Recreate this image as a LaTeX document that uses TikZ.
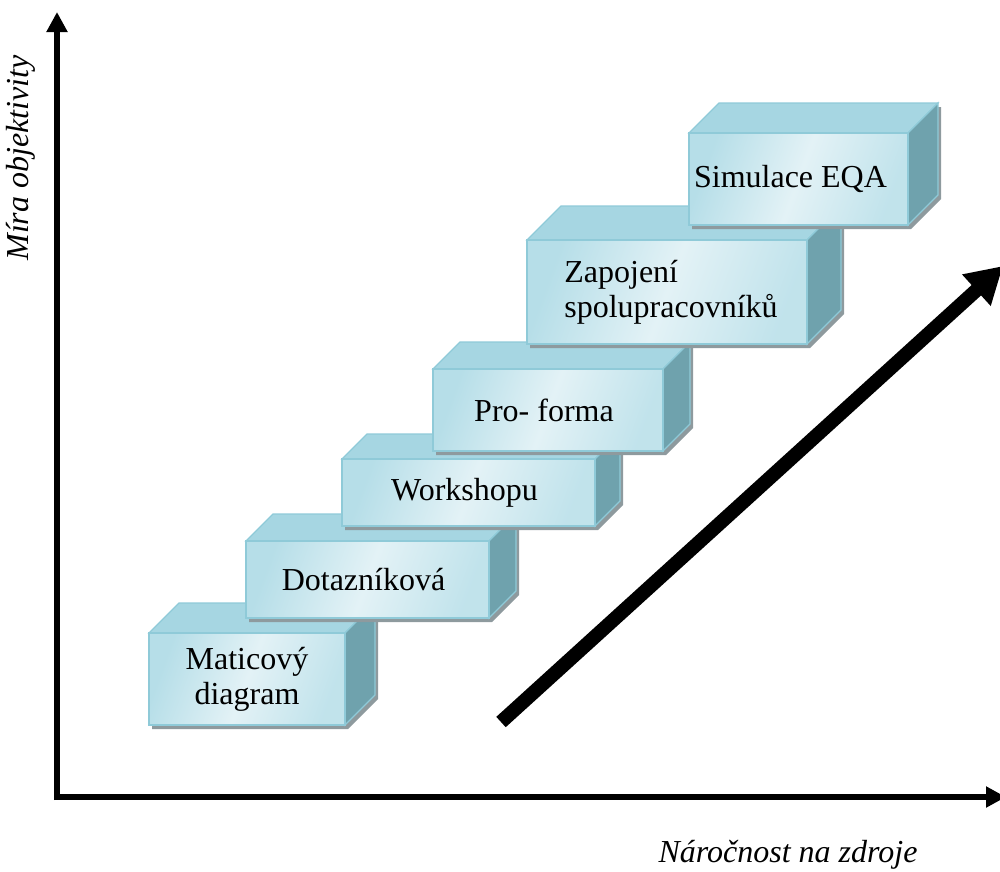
\documentclass[tikz,border=0pt]{standalone}
\usepackage{fontspec}
\setmainfont{Liberation Serif}
\usetikzlibrary{arrows.meta}
\definecolor{topface}{HTML}{A6D6E2}
\definecolor{sideface}{HTML}{6FA2AD}
\definecolor{frontedge}{HTML}{B6DEE8}
\definecolor{frontmid}{HTML}{E3F2F6}
\definecolor{edgecol}{HTML}{8FCAD8}
\definecolor{shadowgray}{HTML}{8E9A9E}
\tikzset{
  boxtext/.style={font=\fontsize{32}{35}\selectfont, inner sep=0pt},
  axislabel/.style={font=\fontsize{32}{36}\selectfont\itshape, inner sep=0pt},
  axisline/.style={line width=6, -{Triangle[width=20,length=20]}},
  bigarrow/.style={line width=14, -{Triangle[width=40,length=36]}},
}
% #1 name, #2 x1, #3 y1, #4 x2, #5 y2, #6 depth, #7 node options, #8 text
\newcommand{\stepcube}[8]{%
  \fill[shadowgray] ({#2+3},{#3+4}) -- ({#2+#6+3},{#3-#6+4}) -- ({#4+#6+3},{#3-#6+4})
     -- ({#4+#6+3},{#5-#6+4}) -- ({#4+3},{#5+4}) -- ({#2+3},{#5+4}) -- cycle;
  \filldraw[fill=topface, draw=edgecol, line width=1.2] (#2,#3) -- ({#2+#6},{#3-#6}) -- ({#4+#6},{#3-#6}) -- (#4,#3) -- cycle;
  \filldraw[fill=sideface, draw=edgecol, line width=1.2] (#4,#3) -- ({#4+#6},{#3-#6}) -- ({#4+#6},{#5-#6}) -- (#4,#5) -- cycle;
  \shade[left color=frontedge, right color=frontedge!85!white, middle color=frontmid, shading angle=70] (#2,#3) rectangle (#4,#5);
  \draw[edgecol, line width=1.5] (#2,#3) rectangle (#4,#5);
  \node[boxtext,#7] (#1) at ({(#2+#4)/2},{(#3+#5)/2}) {#8};
}
\begin{document}
\begin{tikzpicture}[x=1pt,y=-1pt]
\useasboundingbox (0,0) rectangle (1000,871);
% axes
\coordinate (origin) at (57,797);
\coordinate (ytip) at (57,12);
\coordinate (xtip) at (1006,797);
\draw[axisline] (57,800) -- (ytip);
\draw[axisline] (54,797) -- (xtip);
\node[axislabel, rotate=90, anchor=base] (ylab) at (28,158) {Míra objektivity};
\node[axislabel, anchor=base] (xlab) at (788,862) {Náročnost na zdroje};
% steps
\stepcube{s1}{149}{633}{345}{725}{30}{align=center}{Maticový\\diagram}
\stepcube{s2}{246}{541}{489}{618}{27}{xshift=-4}{Dotazníková}
\stepcube{s3}{342}{459}{595}{526}{25}{xshift=-4}{Workshopu}
\stepcube{s4}{433}{369}{663}{451}{27}{xshift=-4}{Pro- forma}
\stepcube{s5}{527}{240}{807}{344}{34}{align=left, xshift=4}{Zapojení\\spolupracovníků}
\stepcube{s6}{689}{133}{908}{225}{30}{xshift=-8}{Simulace EQA}
% trend arrow
\coordinate (tstart) at (501,722);
\coordinate (tend) at (1003,266);
\draw[bigarrow] (tstart) -- (tend);
\end{tikzpicture}
\end{document}
